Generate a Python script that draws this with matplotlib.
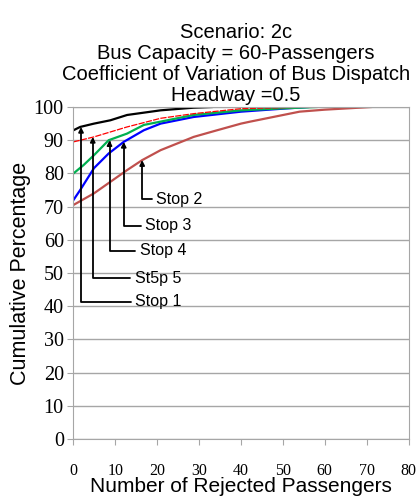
import matplotlib
matplotlib.use('Agg')
import matplotlib.pyplot as plt

# Данные (x - число отказанных пассажиров, y - накопленный %)
stop1_x = [0, 1.6, 4.9, 8.8, 12.8, 20.8, 28.7, 33]
stop1_y = [93, 94, 95, 96, 97.6, 99, 99.8, 100]

stop2_x = [0, 4.9, 12.8, 16.4, 20.8, 28.7, 34.3, 40, 42.2, 54, 60, 71]
stop2_y = [70.5, 74, 81, 84, 87, 91, 93, 95, 95.6, 98.6, 99.2, 100]

stop3_x = [0, 1.6, 4.9, 8.4, 12, 16.8, 20.8, 28.7, 40, 50, 56]
stop3_y = [72, 75, 81.6, 86, 89.5, 93, 95, 97, 98.6, 99.5, 100]

stop4_x = [0, 2.4, 4.9, 8.4, 12.8, 16.8, 20.8, 28.7, 40, 50, 58]
stop4_y = [80, 82.5, 85.5, 90, 92, 94.6, 95.6, 97.6, 99, 99.6, 100]

stop5_x = [0, 4.9, 12.8, 20.8, 28.7, 40, 50, 57]
stop5_y = [89.5, 91, 94, 96.6, 98, 99.5, 99.8, 100]

# Подписи: (текст, x стрелки, y стрелки, x текста, y текста)
labels = [
    ('Stop 1', 1.8, 94.0, 14.8, 41.4),
    ('St5p 5', 4.6, 91.0, 14.6, 48.4),
    ('Stop 4', 8.6, 90.0, 15.8, 56.7),
    ('Stop 3', 12.0, 89.5, 17.0, 64.2),
    ('Stop 2', 16.4, 84.0, 19.8, 72.2),
]

x_ticks = [0, 10, 20, 30, 40, 50, 60, 70, 80]
y_ticks = [0, 10, 20, 30, 40, 50, 60, 70, 80, 90, 100]

serif = ['Liberation Serif', 'DejaVu Serif']

fig = plt.figure(figsize=(4.19, 5.01), dpi=100)
ax = fig.add_axes([0.1754, 0.1238, 0.7996, 0.6626])

ax.plot(stop2_x, stop2_y, color='#c0504d', lw=1.6)
ax.plot(stop3_x, stop3_y, color='#0000ff', lw=1.6)
ax.plot(stop4_x, stop4_y, color='#00b050', lw=1.6)
ax.plot(stop5_x, stop5_y, color='#ff0000', lw=0.9, ls=(0, (5, 1)))
ax.plot(stop1_x, stop1_y, color='black', lw=1.6)

for text, xa, ya, xt, yt in labels:
    ax.annotate(text, xy=(xa, ya), xytext=(xt, yt), fontsize=11.5,
                family='Liberation Sans', va='center', ha='left',
                arrowprops=dict(arrowstyle='-|>', color='black', lw=1.3,
                                mutation_scale=7, shrinkA=1, shrinkB=0,
                                relpos=(0, 0.5),
                                connectionstyle='angle,angleA=0,angleB=90,rad=0'))

ax.set_xlim(0, 80)
ax.set_ylim(0, 100)
ax.set_xticks(x_ticks)
ax.set_yticks(y_ticks)
ax.set_xticklabels([str(v) for v in x_ticks], family=serif, fontsize=11.5)
ax.set_yticklabels([str(v) for v in y_ticks], family=serif, fontsize=14.5)
ax.grid(axis='y', color='#a6a6a6', lw=1)
ax.set_axisbelow(True)
for s in ax.spines.values():
    s.set_color('#a6a6a6')
ax.tick_params(axis='both', color='#a6a6a6', length=4)
ax.tick_params(axis='x', pad=13)
ax.tick_params(axis='y', pad=3)

ax.set_xlabel('Number of Rejected Passengers', family='Liberation Sans',
              fontsize=15, labelpad=-1)
ax.set_ylabel('Cumulative Percentage', family='Liberation Sans',
              fontsize=15.5, labelpad=2)
ax.set_title('Scenario: 2c\nBus Capacity = 60-Passengers\n'
             'Coefficient of Variation of Bus Dispatch\nHeadway =0.5',
             family='Liberation Sans', fontsize=14.5, linespacing=1.15,
             pad=4, x=0.485)

plt.savefig('out.png', dpi=100)
